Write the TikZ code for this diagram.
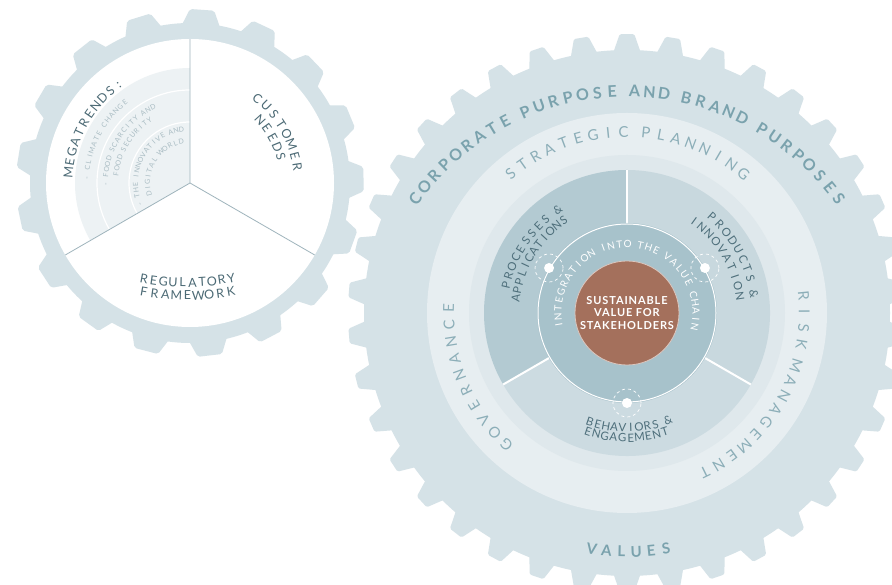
\documentclass[tikz,border=0pt]{standalone}
\usepackage{fontspec}
\setmainfont{Lato}
\newfontfamily\coretrack[LetterSpace=8]{Lato}

\definecolor{bodyblue}{HTML}{D5E2E7}
\definecolor{bandblue}{HTML}{E7EEF1}
\definecolor{bandinner}{HTML}{DFE8EC}
\definecolor{procblue}{HTML}{B3CAD2}
\definecolor{prodblue}{HTML}{C8D8DE}
\definecolor{behavblue}{HTML}{CCDBE1}
\definecolor{ringblue}{HTML}{A7C2CB}
\definecolor{corebrown}{HTML}{A4705C}
\definecolor{captext}{HTML}{7AA2AD}
\definecolor{lighttext}{HTML}{8CAEB8}
\definecolor{darktext}{HTML}{4E6F7B}
\definecolor{geartext}{HTML}{4C6A75}
\definecolor{fainttext}{HTML}{A9BCC3}
\definecolor{divider}{HTML}{9FB4BC}
\definecolor{shadeblue}{HTML}{EDF2F4}

\newcommand\outerfont{\color{captext}\bfseries\fontsize{16}{16}\selectfont}
\newcommand\ringfont{\color{lighttext}\fontsize{15}{15}\selectfont}
\newcommand\valuefont{\color{captext}\bfseries\fontsize{15}{15}\selectfont}
\newcommand\trendfont{\color{geartext}\fontsize{12.5}{12.5}\selectfont}
\newcommand\itemfont{\color{fainttext}\fontsize{7}{7}\selectfont}
\newcommand\gearfont{\color{geartext}\fontsize{12.5}{12.5}\selectfont}
\newcommand\sectorfont{\color{darktext}\fontsize{11.5}{11.5}\selectfont}
\newcommand\chainfont{\color{white}\fontsize{10}{10}\selectfont}

\newdimen\arcw
\newcommand\arclabel[5]{%
  \def\arcfont{#4}\def\arcrad{#1}\def\arcstart{#2}%
  \def\arcn{0}\def\arcsum{0}%
  \arcmeasure#5\relax
  \pgfmathsetmacro\arcdir{(#2>#3)?1:-1}%
  \pgfmathsetmacro\arctrk{(abs(#3-#2)*pi/180*#1-\arcsum)/max(\arcn-1,1)}%
  \def\arcpos{0}%
  \arcplace#5\relax}
\def\arcmeasure#1{\ifx#1\relax\let\arcnext\relax\else\def\arcnext{\arcdomeasure{#1}\arcmeasure}\fi\arcnext}
\def\arcdomeasure#1{%
  \ifx#1~\settowidth\arcw{\arcfont\hspace{0.45em}}%
  \else\settowidth\arcw{\arcfont#1}\pgfmathsetmacro\arcn{\arcn+1}\fi
  \pgfmathsetmacro\arcsum{\arcsum+\arcw}}
\def\arcplace#1{\ifx#1\relax\let\arcnext\relax\else\def\arcnext{\arcdoplace{#1}\arcplace}\fi\arcnext}
\def\arcdoplace#1{%
  \ifx#1~\settowidth\arcw{\arcfont\hspace{0.45em}}%
    \pgfmathsetmacro\arcpos{\arcpos+\arcw}%
  \else
    \settowidth\arcw{\arcfont#1}%
    \pgfmathsetmacro\arcang{\arcstart-(\arcdir)*(\arcpos+\arcw/2)/\arcrad*180/pi}%
    \node[rotate=\arcang-(\arcdir)*90,anchor=base,inner sep=0pt] at (\arcang:\arcrad) {\arcfont#1};
    \pgfmathsetmacro\arcpos{\arcpos+\arcw+\arctrk}%
  \fi}

\begin{document}
\begin{tikzpicture}[x=1pt,y=1pt,
  whitedot/.style={circle,fill=white,minimum size=10pt,inner sep=0pt},
  dashring/.style={circle,draw=white,dashed,line width=0.7pt,minimum size=28pt,inner sep=0pt},
  divline/.style={draw=divider,line width=0.8pt}]
\useasboundingbox (0,0) rectangle (892,585);
\clip (0,0) rectangle (892,585);
\fill[white] (0,0) rectangle (892,585);
\coordinate (S) at (190,402);
\coordinate (B) at (627,272);

\begin{scope}[shift={(S)}]
\fill[bodyblue] (0,0) circle[radius=160];
\foreach \i in {0,...,16}{
  \pgfmathsetmacro\ang{86+\i*360/17}
  \fill[bodyblue,rounded corners=2pt] (\ang-7:158) -- (\ang-4:174) -- (\ang+4:174) -- (\ang+7:158) -- cycle;
}
\fill[white] (0,0) circle[radius=144];
\fill[shadeblue] (0,0) -- (90:115) arc[start angle=90,end angle=210,radius=115] -- cycle;
\draw[white,line width=1.2pt] (90:93) arc[start angle=90,end angle=210,radius=93];
\draw[white,line width=1.2pt] (90:61) arc[start angle=90,end angle=210,radius=61];
\coordinate (hub) at (0,0);
\foreach \a/\n in {90/top,210/left,330/right} \coordinate (rim\n) at (\a:144);
\draw[divline] (hub) -- (rimtop) (hub) -- (rimleft) (hub) -- (rimright);
\arclabel{117.5}{175}{126}{\trendfont}{MEGATRENDS:}
\arclabel{101}{177}{129}{\itemfont}{-~CLIMATE~CHANGE}
\arclabel{82}{181}{116}{\itemfont}{-~FOOD~SCARCITY~AND}
\arclabel{72}{173}{123}{\itemfont}{FOOD~SECURITY}
\arclabel{52}{203}{99}{\itemfont}{-~THE~INNOVATIVE~AND}
\arclabel{40}{195}{102}{\itemfont}{DIGITAL~WORLD}
\arclabel{104}{51.5}{8.5}{\gearfont}{CUSTOMER}
\arclabel{90}{42}{16}{\gearfont}{NEEDS}
\begin{scope}[shift={(-3,136)}]
\arclabel{240}{259.5}{280.8}{\gearfont}{REGULATORY}
\arclabel{253}{260}{280.2}{\gearfont}{FRAMEWORK}
\end{scope}
\end{scope}

\begin{scope}[shift={(B)}]
\fill[bodyblue] (0,0) circle[radius=263];
\foreach \i in {0,...,37}{
  \pgfmathsetmacro\ang{90+\i*360/38}
  \fill[bodyblue,rounded corners=1.5pt] (\ang-3:261) -- (\ang-1.5:279) -- (\ang+1.5:279) -- (\ang+3:261) -- cycle;
}
\fill[bandblue] (0,0) circle[radius=200];
\fill[bandinner] (0,0) circle[radius=158];
\fill[procblue] (0,0) -- (90:143) arc[start angle=90,end angle=210,radius=143] -- cycle;
\fill[behavblue] (0,0) -- (210:143) arc[start angle=210,end angle=330,radius=143] -- cycle;
\fill[prodblue] (0,0) -- (-30:143) arc[start angle=-30,end angle=90,radius=143] -- cycle;
\foreach \a in {90,210,330} \draw[white,line width=2pt] (\a:90) -- (\a:143);
\fill[ringblue] (0,0) circle[radius=90];
\draw[white,line width=1pt] (0,0) circle[radius=89];
\node[circle,fill=corebrown,draw=white!60!corebrown,line width=0.8pt,minimum size=104pt,inner sep=0pt,align=center,text=white,font=\coretrack\bfseries\fontsize{11}{12.5}\selectfont] (core) at (0,0) {SUSTAINABLE\\VALUE FOR\\STAKEHOLDERS};
\foreach \a/\n in {150/proc,30/prod,270/behav}{
  \node[whitedot] (dot\n) at (\a:90) {};
  \node[dashring] (halo\n) at (dot\n) {};
}
\begin{scope}[shift={(0,-40)}]
\arclabel{256}{144}{36}{\outerfont}{CORPORATE~PURPOSE~AND~BRAND~PURPOSES}
\end{scope}
\arclabel{176}{130}{50}{\ringfont}{STRATEGIC~PLANNING}
\arclabel{173}{227.5}{178.5}{\ringfont}{GOVERNANCE}
\arclabel{172}{5.5}{-64}{\ringfont}{RISK~MANAGEMENT}
\arclabel{244}{261.5}{279.4}{\valuefont}{VALUES}
\arclabel{120}{167}{124}{\sectorfont}{PROCESSES~\&}
\arclabel{108}{172.5}{124.5}{\sectorfont}{APPLICATIONS}
\arclabel{124}{48.5}{8.5}{\sectorfont}{PRODUCTS~\&}
\arclabel{110}{54}{8.5}{\sectorfont}{INNOVATION}
\arclabel{119}{251.2}{290.9}{\sectorfont}{BEHAVIORS~\&}
\arclabel{129}{251.8}{287.7}{\sectorfont}{ENGAGEMENT}
\arclabel{65.5}{190}{-12}{\chainfont}{INTEGRATION~INTO~THE~VALUE~CHAIN}
\end{scope}
\end{tikzpicture}
\end{document}
